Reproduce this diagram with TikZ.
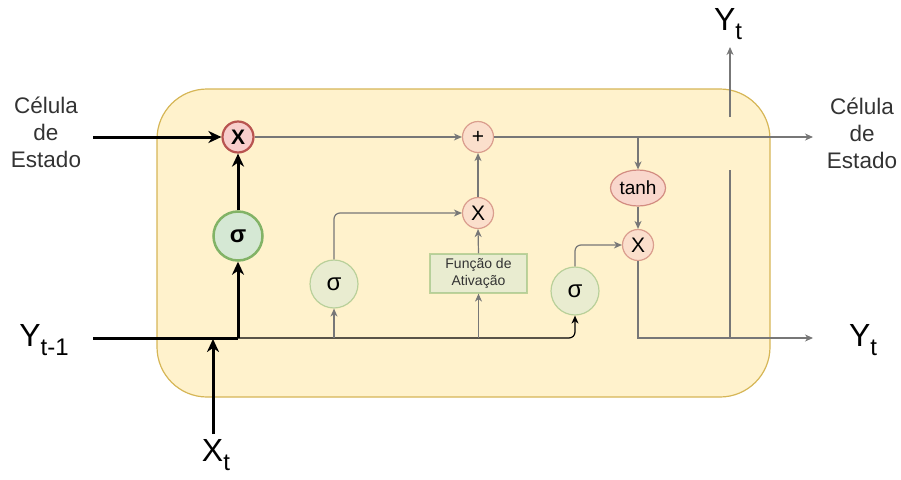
\documentclass[tikz,border=0pt]{standalone}
\usepackage{fontspec}
\setmainfont{Liberation Sans}
\usetikzlibrary{arrows.meta,shapes.geometric}
\definecolor{cellfill}{HTML}{FFF2CC}
\definecolor{celldraw}{HTML}{D6B656}
\definecolor{gfill}{HTML}{D5E8D4}
\definecolor{gdraw}{HTML}{82B366}
\definecolor{rfill}{HTML}{F8CECC}
\definecolor{rdraw}{HTML}{B85450}
\definecolor{lgray}{HTML}{777777}
\definecolor{txtgray}{HTML}{333333}
\tikzset{
  bigtip/.style={-{Stealth[length=13pt,width=12pt,inset=4pt]}},
  smalltip/.style={-{Stealth[length=8pt,width=7pt,inset=2.5pt]}},
  thickline/.style={line width=3pt,black},
  thinline/.style={line width=1.2pt,lgray},
  blackthin/.style={line width=1.2pt,black},
  redbig/.style={circle,minimum size=31pt,inner sep=0pt,fill=rfill,draw=rdraw,line width=2.2pt,font=\fontsize{21}{21}\selectfont\bfseries},
  greenbig/.style={circle,minimum size=49pt,inner sep=0pt,fill=gfill,draw=gdraw,line width=2.5pt,font=\fontsize{24}{24}\selectfont\bfseries},
  pinkc/.style={circle,minimum size=31pt,inner sep=0pt,fill=rfill,draw=rdraw,fill opacity=0.5,draw opacity=0.5,text opacity=1,line width=1.2pt,font=\fontsize{21}{21}\selectfont},
  greenc/.style={circle,minimum size=48pt,inner sep=0pt,fill=gfill,draw=gdraw,fill opacity=0.5,draw opacity=0.5,text opacity=1,line width=1.2pt,font=\fontsize{24}{24}\selectfont},
  tanhn/.style={ellipse,minimum width=55pt,minimum height=36pt,inner sep=0pt,fill=rfill,draw=rdraw,fill opacity=0.75,draw opacity=0.6,text opacity=1,line width=1.2pt,font=\fontsize{19}{19}\selectfont},
  actbox/.style={rectangle,minimum width=97pt,minimum height=39pt,inner sep=0pt,fill=gfill,draw=gdraw,fill opacity=0.5,draw opacity=0.5,text opacity=1,line width=1.2pt,align=center,text=txtgray,font=\fontsize{14}{17}\selectfont},
  lbl/.style={align=center,text=txtgray,font=\fontsize{22.5}{27}\selectfont,inner sep=0pt},
  bigl/.style={inner sep=0pt,font=\fontsize{32}{32}\selectfont},
}
\newcommand{\subsc}[1]{\raisebox{-0.3em}{\fontsize{24}{24}\selectfont #1}}
\begin{document}
\begin{tikzpicture}[x=1pt,y=-1pt]
\useasboundingbox (0,0) rectangle (901,479);
% cell
\draw[fill=cellfill,draw=celldraw,line width=1.2pt,rounded corners=50pt] (157,89) rectangle (770,397);
% nodes
\node[redbig] (m1) at (238,137) {X};
\node[greenbig] (s1) at (238,236) {σ};
\node[pinkc] (plus) at (478,137) {+};
\node[pinkc] (m2) at (478,213) {X};
\node[greenc] (s2) at (334,284) {σ};
\node[actbox] (act) at (478.5,273.5) {Função de\\Ativação};
\node[greenc] (s3) at (575,291) {σ};
\node[tanhn] (tanh) at (638,188) {tanh};
\node[pinkc] (m3) at (638,245) {X};
% labels
\node[lbl] (cin) at (46,132) {Célula\\de\\Estado};
\node[lbl] (cout) at (862,133) {Célula\\de\\Estado};
\node[bigl] (yprev) at (44,340) {Y\subsc{t-1}};
\node[bigl] (xt) at (216,455) {X\subsc{t}};
\node[bigl] (yout) at (863,340) {Y\subsc{t}};
\node[bigl] (ytop) at (728,24) {Y\subsc{t}};
% coordinates
\coordinate (cinE) at (93,137);
\coordinate (yprevE) at (93,338);
\coordinate (j1) at (238,338);
\coordinate (xtS) at (213,434);
\coordinate (xtE) at (213,339);
\coordinate (j2) at (334,338);
\coordinate (j3) at (478.5,338);
\coordinate (c1) at (575,338);
\coordinate (cout1) at (813,137);
\coordinate (br1) at (638,137);
\coordinate (youtE) at (813,338);
\coordinate (v1) at (730,338);
\coordinate (v2) at (730,170);
\coordinate (v3) at (730,117);
\coordinate (v4) at (730,47);
% thick black connectors
\draw[thickline,bigtip] (cinE) -- (m1.west);
\draw[thickline] (yprevE) -- (j1);
\draw[thickline,bigtip] (j1) -- (s1.south);
\draw[thickline,bigtip] (s1.north) -- (m1.south);
\draw[thickline,bigtip] (xtS) -- (xtE);
% thin black
\draw[blackthin,smalltip,rounded corners=6pt] (j1) -- (c1) -- (s3.south);
% gray connectors
\draw[thinline,smalltip] (m1.east) -- (plus.west);
\draw[thinline,smalltip] (j2) -- (s2.south);
\draw[thinline,smalltip,rounded corners=6pt] (s2.north) |- (m2.west);
\draw[thinline,smalltip] (j3) -- (act.south);
\draw[thinline,smalltip] (act.north) -- (m2.south);
\draw[thinline,smalltip] (m2.north) -- (plus.south);
\draw[thinline,smalltip] (plus.east) -- (cout1);
\draw[thinline,smalltip] (br1) -- (tanh.north);
\draw[thinline,smalltip] (tanh.south) -- (m3.north);
\draw[thinline,smalltip,rounded corners=6pt] (s3.north) |- (m3.west);
\draw[thinline,smalltip] (m3.south) |- (youtE);
\draw[thinline] (v1) -- (v2);
\draw[thinline,smalltip] (v3) -- (v4);
\end{tikzpicture}
\end{document}
